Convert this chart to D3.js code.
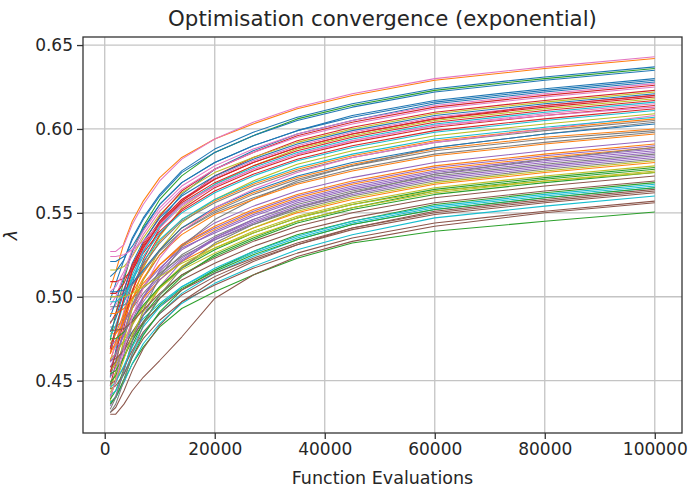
<!DOCTYPE html>
<html lang="en">
<head>
    <meta charset="UTF-8">
    <title>Optimisation convergence (exponential)</title>
    <script src="https://d3js.org/d3.v7.min.js"></script>
    <style>
        body { margin: 0; background: #fff; }
        text { font-family: "DejaVu Sans", sans-serif; fill: #262626; }
    </style>
</head>
<body>
    <div id="chart"></div>
    <script>
        var evals = [1000, 2000, 3500, 5000, 7000, 10000, 14000, 20000, 27000, 35000, 45000, 60000, 80000, 100000];

        // best lambda per run (one row per run, plotted in this order)
        var runs = [
            [.452,.468,.490,.508,.527,.545,.561,.576,.587,.597,.605,.615,.622,.628],
            [.505,.515,.532,.545,.557,.571,.583,.594,.603,.612,.620,.629,.636,.642],
            [.437,.440,.450,.460,.470,.482,.493,.503,.513,.523,.532,.539,.545,.5505],
            [.447,.460,.482,.503,.522,.541,.557,.572,.583,.593,.601,.610,.617,.623],
            [.441,.449,.466,.483,.499,.516,.531,.544,.554,.563,.571,.580,.587,.593],
            [.430,.430,.436,.444,.452,.462,.476,.499,.513,.524,.533,.542,.550,.556],
            [.527,.527,.531,.543,.555,.569,.582,.594,.604,.613,.621,.630,.637,.643],
            [.482,.482,.486,.493,.502,.513,.525,.536,.546,.555,.563,.572,.579,.585],
            [.438,.452,.475,.497,.517,.536,.553,.567,.578,.588,.596,.605,.612,.618],
            [.470,.470,.473,.479,.487,.496,.506,.516,.526,.535,.544,.553,.560,.566],
            [.498,.508,.522,.535,.547,.561,.575,.588,.598,.607,.615,.624,.631,.637],
            [.468,.471,.479,.489,.499,.510,.521,.531,.541,.550,.558,.567,.574,.580],
            [.474,.490,.510,.527,.542,.558,.572,.586,.596,.606,.614,.623,.630,.636],
            [.509,.509,.511,.516,.526,.539,.551,.563,.573,.582,.590,.599,.606,.612],
            [.447,.455,.470,.486,.500,.515,.528,.539,.549,.558,.566,.575,.582,.588],
            [.431,.434,.444,.456,.469,.483,.497,.510,.521,.531,.541,.551,.558,.564],
            [.492,.495,.505,.517,.528,.541,.554,.566,.576,.585,.593,.602,.609,.615],
            [.453,.462,.479,.495,.510,.525,.539,.551,.561,.570,.578,.587,.594,.599],
            [.516,.516,.518,.524,.535,.549,.562,.574,.583,.592,.600,.609,.616,.622],
            [.437,.440,.449,.460,.472,.484,.496,.508,.518,.528,.537,.547,.554,.560],
            [.512,.515,.522,.534,.546,.560,.574,.586,.596,.605,.613,.622,.629,.635],
            [.462,.472,.488,.504,.518,.533,.546,.557,.567,.576,.584,.593,.600,.606],
            [.439,.444,.457,.471,.485,.499,.512,.525,.535,.545,.553,.563,.570,.576],
            [.466,.479,.500,.516,.532,.548,.563,.576,.586,.596,.604,.613,.620,.626],
            [.458,.465,.479,.493,.506,.519,.531,.541,.551,.560,.568,.577,.584,.590],
            [.458,.461,.469,.479,.489,.499,.510,.520,.530,.539,.547,.556,.563,.569],
            [.461,.472,.492,.510,.527,.544,.558,.571,.581,.590,.598,.607,.614,.620],
            [.494,.494,.495,.499,.505,.514,.524,.534,.543,.552,.560,.569,.576,.582],
            [.445,.455,.474,.493,.510,.528,.544,.558,.569,.579,.587,.596,.603,.609],
            [.441,.444,.454,.466,.478,.490,.502,.514,.524,.534,.543,.552,.559,.565],
            [.488,.497,.512,.527,.540,.555,.568,.580,.590,.599,.608,.617,.624,.630],
            [.472,.478,.490,.502,.514,.528,.541,.552,.562,.571,.579,.588,.595,.600],
            [.449,.453,.464,.477,.489,.501,.513,.524,.534,.544,.552,.561,.568,.574],
            [.484,.490,.504,.518,.530,.543,.556,.568,.578,.587,.595,.604,.611,.617],
            [.435,.441,.456,.473,.489,.506,.521,.535,.546,.556,.564,.573,.580,.586],
            [.448,.450,.458,.468,.479,.490,.501,.512,.522,.531,.540,.549,.556,.562],
            [.503,.506,.515,.528,.539,.553,.566,.578,.588,.597,.605,.614,.621,.627],
            [.500,.500,.502,.507,.515,.527,.539,.550,.559,.568,.576,.585,.592,.598],
            [.456,.460,.471,.483,.494,.506,.518,.529,.539,.548,.556,.565,.572,.578],
            [.470,.480,.497,.513,.527,.542,.555,.567,.577,.586,.594,.603,.610,.616],
            [.521,.521,.524,.530,.541,.555,.568,.580,.590,.599,.607,.616,.623,.629],
            [.478,.478,.484,.494,.506,.519,.531,.542,.552,.561,.569,.578,.585,.591],
            [.436,.440,.451,.464,.477,.491,.504,.516,.527,.537,.545,.555,.562,.568],
            [.455,.466,.486,.503,.520,.537,.552,.565,.575,.584,.592,.601,.608,.614],
            [.452,.458,.471,.484,.497,.510,.522,.534,.544,.553,.561,.570,.577,.583],
            [.445,.447,.454,.464,.475,.486,.497,.507,.517,.526,.535,.544,.551,.557],
            [.495,.500,.513,.525,.537,.551,.564,.576,.586,.595,.603,.612,.619,.625],
            [.485,.488,.497,.507,.519,.532,.545,.556,.566,.575,.583,.592,.599,.605],
            [.463,.466,.474,.484,.494,.505,.516,.526,.536,.545,.553,.562,.569,.575],
            [.476,.483,.497,.511,.524,.538,.550,.562,.572,.581,.589,.598,.605,.611],
            [.479,.487,.503,.520,.533,.547,.560,.572,.582,.591,.599,.608,.615,.621],
            [.490,.490,.493,.499,.508,.519,.530,.540,.550,.559,.567,.576,.583,.589],
            [.454,.456,.464,.474,.484,.495,.505,.515,.525,.534,.543,.552,.559,.565],
            [.502,.502,.508,.519,.531,.545,.558,.570,.580,.589,.597,.606,.613,.619],
            [.470,.474,.484,.495,.506,.517,.529,.538,.548,.557,.565,.574,.581,.587],
            [.462,.463,.468,.476,.485,.494,.504,.514,.523,.532,.541,.550,.557,.563],
            [.524,.524,.525,.528,.533,.543,.555,.566,.576,.585,.593,.602,.608,.613],
            [.433,.440,.456,.474,.492,.512,.530,.546,.558,.569,.578,.589,.597,.604],
            [.443,.449,.463,.477,.491,.505,.518,.531,.541,.551,.559,.568,.575,.581],
            [.446,.449,.459,.470,.482,.494,.506,.517,.527,.536,.545,.554,.561,.567],
            [.503,.503,.504,.508,.516,.528,.541,.553,.563,.572,.580,.589,.597,.603],
            [.466,.473,.486,.499,.511,.525,.537,.549,.558,.567,.575,.584,.591,.597],
            [.475,.475,.479,.486,.495,.506,.517,.528,.538,.547,.555,.564,.571,.577],
            [.469,.481,.499,.515,.529,.544,.557,.570,.580,.589,.597,.606,.614,.620],
            [.461,.466,.477,.489,.500,.512,.523,.535,.545,.554,.562,.571,.578,.584],
            [.480,.480,.481,.485,.492,.502,.513,.523,.533,.542,.550,.559,.566,.572],
            [.440,.450,.469,.488,.505,.523,.539,.553,.564,.574,.583,.592,.600,.608],
            [.431,.436,.450,.466,.483,.501,.517,.532,.543,.553,.562,.573,.582,.589],
            [.500,.500,.500,.502,.506,.512,.520,.529,.538,.547,.555,.563,.569,.574],
            [.497,.497,.501,.510,.521,.534,.546,.558,.568,.577,.585,.594,.601,.607]
        ];

        var xTicks = [0, 20000, 40000, 60000, 80000, 100000];
        var yTicks = [0.45, 0.50, 0.55, 0.60, 0.65];
        var palette = ["#1f77b4", "#ff7f0e", "#2ca02c", "#d62728", "#9467bd",
                       "#8c564b", "#e377c2", "#7f7f7f", "#bcbd22", "#17becf"];

        var width = 690, height = 490;
        var margin = {top: 37, right: 8, bottom: 57, left: 83};

        var svg = d3.select("#chart").append("svg")
            .attr("width", width)
            .attr("height", height);

        // matplotlib style 5% padding around the data
        var x = d3.scaleLinear()
            .domain([-3950, 104950])
            .range([margin.left, width - margin.right]);
        var y = d3.scaleLinear()
            .domain([0.4188, 0.6548])
            .range([height - margin.bottom, margin.top]);

        // grid
        svg.append("g").selectAll("line").data(xTicks).enter().append("line")
            .attr("x1", d => x(d)).attr("x2", d => x(d))
            .attr("y1", margin.top).attr("y2", height - margin.bottom)
            .attr("stroke", "#c4c4c4").attr("stroke-width", 1.3);
        svg.append("g").selectAll("line").data(yTicks).enter().append("line")
            .attr("x1", margin.left).attr("x2", width - margin.right)
            .attr("y1", d => y(d)).attr("y2", d => y(d))
            .attr("stroke", "#c4c4c4").attr("stroke-width", 1.3);

        // one line per run
        var line = d3.line()
            .x((d, i) => x(evals[i]))
            .y(d => y(d));

        svg.append("g").selectAll("path").data(runs).enter().append("path")
            .attr("d", line)
            .attr("fill", "none")
            .attr("stroke", (d, i) => palette[i % palette.length])
            .attr("stroke-width", 1.05)
            .attr("stroke-linejoin", "round");

        // axes
        var xAxis = d3.axisBottom(x).tickValues(xTicks).tickFormat(d3.format("d")).tickSizeOuter(0).tickSize(6).tickPadding(4);
        var yAxis = d3.axisLeft(y).tickValues(yTicks).tickFormat(d3.format(".2f")).tickSizeOuter(0).tickSize(6).tickPadding(4);

        var gx = svg.append("g")
            .attr("transform", "translate(0," + (height - margin.bottom) + ")")
            .call(xAxis);
        var gy = svg.append("g")
            .attr("transform", "translate(" + margin.left + ",0)")
            .call(yAxis);
        [gx, gy].forEach(function(g) {
            g.select(".domain").remove();
            g.selectAll(".tick line").attr("stroke", "#333").attr("stroke-width", 1.3);
            g.selectAll(".tick text").style("font-size", "17px").attr("fill", "#262626");
        });

        // frame
        svg.append("rect")
            .attr("x", margin.left).attr("y", margin.top)
            .attr("width", width - margin.right - margin.left)
            .attr("height", height - margin.bottom - margin.top)
            .attr("fill", "none").attr("stroke", "#333").attr("stroke-width", 1.3);

        // labels
        svg.append("text")
            .attr("x", (margin.left + width - margin.right) / 2)
            .attr("y", 26)
            .attr("text-anchor", "middle")
            .style("font-size", "21.3px")
            .text("Optimisation convergence (exponential)");

        svg.append("text")
            .attr("x", (margin.left + width - margin.right) / 2)
            .attr("y", 484)
            .attr("text-anchor", "middle")
            .style("font-size", "17.5px")
            .text("Function Evaluations");

        svg.append("text")
            .attr("transform", "translate(17," + ((margin.top + height - margin.bottom) / 2) + ") rotate(-90)")
            .attr("text-anchor", "middle")
            .style("font-size", "17.5px")
            .style("font-style", "italic")
            .text("λ");
    </script>
</body>
</html>
